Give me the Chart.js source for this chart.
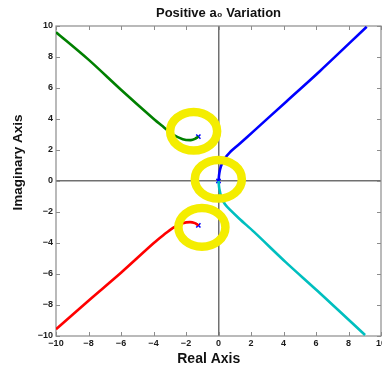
<!DOCTYPE html>
<html>
<head>
<meta charset="utf-8">
<script src="https://cdn.jsdelivr.net/npm/chart.js@4.4.1/dist/chart.umd.min.js"></script>
<style>
  html, body { margin: 0; padding: 0; background: #ffffff; }
</style>
</head>
<body>
<canvas id="locus" width="382" height="367"></canvas>
<script>
// ==================== Root locus data ====================

// branch heading up-left (green)
const greenRe = [-10, -8, -6, -4, -3.4, -2.8, -2.2, -1.7, -1.45, -1.24];
const greenIm = [9.6, 7.83, 5.89, 4.02, 3.5, 3.0, 2.7, 2.64, 2.72, 2.86];

// branch heading down-left (red)
const redRe = [-10, -8, -6, -4, -3.4, -2.8, -2.2, -1.75, -1.45, -1.24];
const redIm = [-9.57, -7.72, -5.92, -4.02, -3.5, -3.02, -2.72, -2.65, -2.72, -2.86];

// branch leaving the origin upwards (blue)
const blueRe = [0, 0.05, 0.15, 0.35, 0.7, 1.3, 2.2, 4.2, 6.25, 9.12];
const blueIm = [0, 0.5, 0.95, 1.4, 1.85, 2.4, 3.25, 5.15, 7.1, 9.95];

// branch leaving the origin downwards (cyan)
const cyanRe = [0, 0.05, 0.18, 0.4, 0.75, 1.3, 2.2, 4.15, 6.1, 9.02];
const cyanIm = [0, -0.5, -1.05, -1.5, -1.9, -2.45, -3.3, -5.25, -7.1, -9.94];

// open-loop poles (x markers)
const poleRe = [-1.24, -1.24, 0];
const poleIm = [2.86, -2.86, 0];

// highlighted regions (yellow rings)
const ringRe = [-1.53, -0.01, -1.02];
const ringIm = [3.21, 0.11, -2.99];

// axis ticks
const tickValues = [-10, -8, -6, -4, -2, 0, 2, 4, 6, 8, 10];
const tickLabels = ['\u221210', '\u22128', '\u22126', '\u22124', '\u22122', '0', '2', '4', '6', '8', '10'];

const titleText = 'Positive a\u2080 Variation';
const xAxisText = 'Real Axis';
const yAxisText = 'Imaginary Axis';

// ==================== Helpers ====================

const FONT = '"Liberation Sans", Arial, Helvetica, sans-serif';
const BOX_COLOR = '#8c8c8c';

function toPoints(re, im) {
    return re.map((r, i) => ({ x: r, y: im[i] }));
}

function branch(re, im, color) {
    return {
        data: toPoints(re, im),
        showLine: true,
        borderColor: color,
        backgroundColor: color,
        borderWidth: 2.6,
        pointRadius: 0,
        tension: 0.3
    };
}

// MATLAB style frame: full box with ticks pointing inwards
const framePlugin = {
    id: 'frame',
    beforeDatasetsDraw(chart) {
        const { ctx, chartArea: a, scales: { x, y } } = chart;
        const len = 4;
        ctx.save();
        ctx.strokeStyle = BOX_COLOR;
        ctx.lineWidth = 1;
        ctx.beginPath();
        x.ticks.forEach(t => {
            const px = Math.round(x.getPixelForValue(t.value)) + 0.5;
            ctx.moveTo(px, a.top); ctx.lineTo(px, a.top + len);
            ctx.moveTo(px, a.bottom); ctx.lineTo(px, a.bottom - len);
        });
        y.ticks.forEach(t => {
            const py = Math.round(y.getPixelForValue(t.value)) + 0.5;
            ctx.moveTo(a.left, py); ctx.lineTo(a.left + len, py);
            ctx.moveTo(a.right, py); ctx.lineTo(a.right - len, py);
        });
        ctx.stroke();
        ctx.lineWidth = 1.2;
        ctx.strokeRect(a.left, a.top, a.right - a.left, a.bottom - a.top);
        ctx.restore();
    }
};

// yellow rings drawn over the curves
const ringPlugin = {
    id: 'rings',
    afterDatasetsDraw(chart) {
        const { ctx, scales: { x, y } } = chart;
        ctx.save();
        ctx.strokeStyle = '#f4ed00';
        ctx.lineWidth = 8.5;
        ringRe.forEach((re, i) => {
            ctx.beginPath();
            ctx.ellipse(x.getPixelForValue(re), y.getPixelForValue(ringIm[i]), 23.5, 19.3, 0, 0, Math.PI * 2);
            ctx.stroke();
        });
        ctx.restore();
    }
};

// axis captions
const captionPlugin = {
    id: 'captions',
    afterDraw(chart) {
        const { ctx, chartArea: a } = chart;
        ctx.save();
        ctx.fillStyle = '#111111';
        ctx.textAlign = 'center';
        ctx.textBaseline = 'middle';
        ctx.font = 'bold 14px ' + FONT;
        ctx.fillText(xAxisText, a.left + (a.right - a.left) * 0.47, a.bottom + 23);
        ctx.translate(18, a.top + (a.bottom - a.top) * 0.44);
        ctx.rotate(-Math.PI / 2);
        ctx.font = 'bold 13.5px ' + FONT;
        ctx.fillText(yAxisText, 0, 0);
        ctx.restore();
    }
};

function axis(fitSize, isX) {
    return {
        type: 'linear',
        min: -10,
        max: 10,
        border: { display: false },
        grid: {
            drawTicks: false,
            lineWidth: 1.5,
            color: c => (c.tick && c.tick.value === 0) ? '#707070' : 'rgba(0,0,0,0)'
        },
        ticks: {
            stepSize: 2,
            autoSkip: false,
            maxRotation: 0,
            padding: isX ? 2 : 3,
            color: '#1a1a1a',
            font: { family: FONT, size: 9, weight: 'bold' },
            callback: v => tickLabels[tickValues.indexOf(v)]
        },
        afterFit(scale) {
            // end labels may overhang the plot; don't shrink the plot for them
            scale.paddingLeft = scale.paddingRight = 0;
            scale.paddingTop = scale.paddingBottom = 0;
            if (isX) {
                scale.height = fitSize;
            } else {
                scale.width = fitSize;
            }
        }
    };
}

// ==================== Chart ====================

new Chart(document.getElementById('locus'), {
    type: 'scatter',
    data: {
        datasets: [
            branch(greenRe, greenIm, '#008000'),
            branch(redRe, redIm, '#ff0000'),
            branch(cyanRe, cyanIm, '#00bfbf'),
            branch(blueRe, blueIm, '#0000ff'),
            {
                data: toPoints(poleRe, poleIm),
                pointStyle: 'crossRot',
                pointRadius: 3,
                borderWidth: 1.5,
                borderColor: '#0000ff',
                showLine: false
            }
        ]
    },
    options: {
        responsive: false,
        animation: false,
        devicePixelRatio: 1,
        layout: {
            autoPadding: false,
            padding: { top: 0, right: 1, bottom: 0, left: 0 }
        },
        plugins: {
            legend: { display: false },
            tooltip: { enabled: false },
            title: {
                display: true,
                fullSize: false,
                text: titleText,
                color: '#111111',
                font: { family: FONT, size: 13, weight: 'bold' },
                padding: { top: 6, bottom: 4.4 }
            }
        },
        scales: {
            x: axis(31, true),
            y: axis(56, false)
        }
    },
    plugins: [framePlugin, ringPlugin, captionPlugin]
});
</script>
</body>
</html>
